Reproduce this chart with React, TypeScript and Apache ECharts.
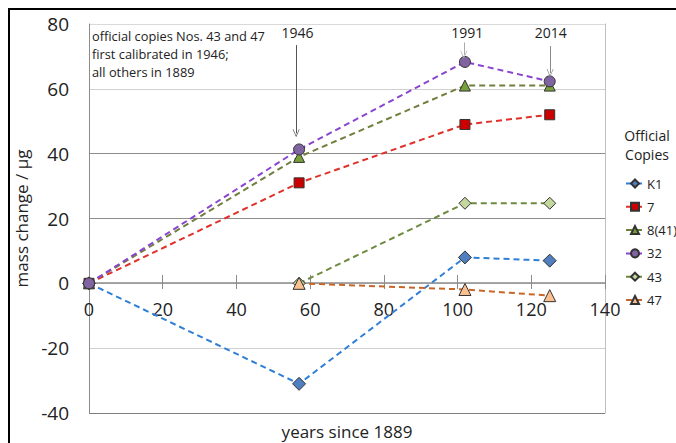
import { useEffect, useRef } from "react";
import * as echarts from "echarts";

const xTicks = [0, 20, 40, 60, 80, 100, 120, 140];
const yearsAll = [0, 57, 102, 125];
const yearsLate = [57, 102, 125];
const seriesNames = ["K1", "7", "8(41)", "32", "43", "47"];
const valuesK1 = [0, -31, 8, 7];
const values7 = [0, 31, 49, 52];
const values8 = [0, 39, 61, 61];
const values32 = [0, 41.3, 68.3, 62.3];
const values43 = [0, 24.7, 24.7];
const values47 = [0, -1.9, -3.8];
const eventYears = ["1946", "1991", "2014"];
const noteLines = ["official copies Nos. 43 and 47", "first calibrated in 1946;", "all others in 1889"];

const FONT = "'Open Sans', sans-serif";

function pairs(xs: number[], ys: number[]) {
  return xs.map((x, i) => [x, ys[i]]);
}

function lineSeries(name: string, data: number[][], lineColor: string, fill: string, symbol: string, size: number) {
  return {
    name,
    type: "line",
    data,
    xAxisIndex: 0,
    yAxisIndex: 0,
    symbol,
    symbolSize: size,
    showAllSymbol: true,
    lineStyle: { color: lineColor, width: 2, type: [6, 4] },
    itemStyle: { color: fill, borderColor: "#333", borderWidth: 1 },
    emphasis: { disabled: true },
    z: 3,
  };
}

const chevron = "path://M0,9L5,0L10,9L9,9L5,2L1,9Z";
// main plot area, and the upper half (0..80) whose bottom edge is the zero line
const mainBox = { left: 89, right: 71, top: 24, bottom: 30, containLabel: false, outerBoundsMode: "none" };
const upperBox = { left: 89, right: 71, top: 24, bottom: 160, containLabel: false, outerBoundsMode: "none" };

const xRange = { type: "value", min: xTicks[0], max: xTicks[xTicks.length - 1], interval: 20 };

export default function App() {
  const ref = useRef<HTMLDivElement>(null);
  useEffect(() => {
    if (!ref.current) return;
    const chart = echarts.init(ref.current, undefined, { renderer: "svg" });
    const option: any = {
      animation: false,
      textStyle: { fontFamily: FONT },
      grid: [mainBox, upperBox, { ...upperBox }],
      xAxis: [
        { ...xRange, gridIndex: 0, show: false },
        {
          ...xRange,
          gridIndex: 1,
          position: "bottom",
          name: "years since 1889",
          nameLocation: "middle",
          nameGap: 140,
          nameTextStyle: { fontSize: 17, color: "#222", fontFamily: FONT },
          axisLine: { onZero: false, show: true, lineStyle: { color: "#8c8c8c", width: 1.5 } },
          axisTick: { show: true, inside: false, length: 6, lineStyle: { color: "#8c8c8c" } },
          axisLabel: { fontSize: 18, color: "#222", margin: 17, fontFamily: FONT },
          splitLine: { show: false },
          z: 1,
        },
        {
          ...xRange,
          gridIndex: 2,
          position: "bottom",
          axisLine: { onZero: false, show: false },
          axisTick: { show: true, inside: true, length: 8, lineStyle: { color: "#8c8c8c" } },
          axisLabel: { show: false },
          splitLine: { show: false },
          z: 1,
        },
      ],
      yAxis: [
        {
          type: "value",
          gridIndex: 0,
          min: -40,
          max: 80,
          interval: 20,
          name: "mass change / µg",
          nameLocation: "middle",
          nameGap: 48,
          nameTextStyle: { fontSize: 17, color: "#222", fontFamily: FONT },
          axisLine: { show: true, onZero: false, lineStyle: { color: "#8c8c8c", width: 1 } },
          axisTick: { show: false },
          axisLabel: { fontSize: 19, color: "#222", margin: 20, fontFamily: FONT },
          splitLine: {
            show: true,
            lineStyle: {
              color: ["#7f7f7f", "#d0d0d0", "#d0d0d0", "#8c8c8c", "#8c8c8c", "#d0d0d0", "#d9d9d9"],
              width: 1,
            },
          },
        },
        {
          type: "value",
          gridIndex: 0,
          min: -40,
          max: 80,
          interval: 20,
          position: "right",
          axisLine: { show: true, onZero: false, lineStyle: { color: "#bfbfbf" } },
          axisTick: { show: false },
          axisLabel: { show: false },
          splitLine: { show: false },
        },
        { type: "value", gridIndex: 1, min: 0, max: 80, show: false },
        { type: "value", gridIndex: 2, min: 0, max: 80, show: false },
      ],
      legend: {
        orient: "vertical",
        left: 620,
        top: 172,
        itemWidth: 18,
        itemHeight: 10,
        itemGap: 10.3,
        data: seriesNames,
        textStyle: { fontSize: 13, color: "#222", fontFamily: FONT, padding: [0, 0, 0, -2] },
        selectedMode: false,
      },
      series: [
        lineSeries(seriesNames[0], pairs(yearsAll, valuesK1), "#2f7fd6", "#4f7fbf", "diamond", 13),
        lineSeries(seriesNames[1], pairs(yearsAll, values7), "#e0302a", "#cc0000", "rect", 10),
        lineSeries(seriesNames[2], pairs(yearsAll, values8), "#6f7f3c", "#77a03b", "triangle", 11),
        lineSeries(seriesNames[3], pairs(yearsAll, values32), "#8a44d0", "#8064a2", "circle", 11),
        lineSeries(seriesNames[4], pairs(yearsLate, values43), "#6e8a3e", "#c3d69b", "diamond", 12),
        lineSeries(seriesNames[5], pairs(yearsLate, values47), "#c8662a", "#fac090", "triangle", 12),
        {
          name: "annotations",
          type: "line",
          xAxisIndex: 0,
          yAxisIndex: 0,
          data: [],
          silent: true,
          markLine: {
            silent: true,
            animation: false,
            symbol: ["none", chevron],
            symbolSize: [7, 8],
            label: { show: false },
            lineStyle: { color: "#555", width: 1, type: "solid" },
            data: [
              [{ coord: [56.2, 73.5] }, { coord: [56.2, 46.3] }],
              [{ coord: [101.7, 74.3], lineStyle: { color: "#aaa" } }, { coord: [101.7, 70.5], lineStyle: { color: "#aaa" } }],
              [{ coord: [125.1, 73.2], lineStyle: { color: "#888" } }, { coord: [125.1, 64.9], lineStyle: { color: "#888" } }],
            ],
          },
          markPoint: {
            silent: true,
            animation: false,
            symbol: "circle",
            symbolSize: 1,
            itemStyle: { color: "rgba(0,0,0,0)" },
            label: { show: true, position: "inside", color: "#222", fontSize: 14, fontFamily: FONT },
            data: [
              { coord: [56.6, 77.4], value: eventYears[0], label: { formatter: eventYears[0] } },
              { coord: [102.6, 77.4], value: eventYears[1], label: { formatter: eventYears[1] } },
              { coord: [125.3, 77.4], value: eventYears[2], label: { formatter: eventYears[2] } },
            ],
          },
        },
      ],
      graphic: [
        {
          type: "rect",
          shape: { x: 9, y: 9, width: 700, height: 500 },
          style: { fill: "none", stroke: "#000", lineWidth: 2 },
          silent: true,
          z: 10,
        },
        {
          type: "text",
          left: 92,
          top: 27,
          style: {
            text: noteLines.join("\n"),
            fontSize: 12.8,
            lineHeight: 18,
            fill: "#222",
            fontFamily: FONT,
          },
        },
        {
          type: "text",
          x: 647,
          y: 126,
          style: {
            text: "Official\nCopies",
            fontSize: 14,
            lineHeight: 19,
            fill: "#222",
            align: "center",
            fontFamily: FONT,
          },
        },
      ],
    };
    chart.setOption(option);
    return () => chart.dispose();
  }, []);
  return (
    <div
      ref={ref}
      style={{ position: "fixed", left: 0, top: 0, width: 676, height: 443, background: "#fff" }}
    />
  );
}
